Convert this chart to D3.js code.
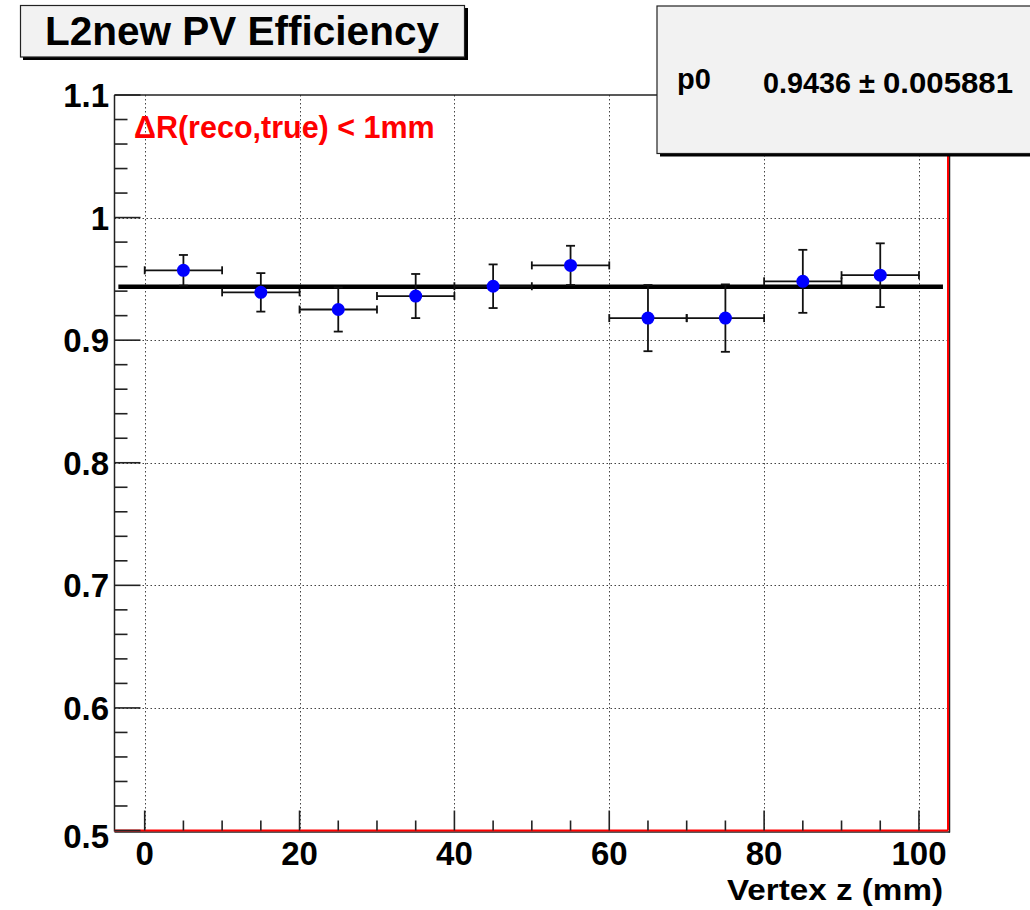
<!DOCTYPE html>
<html>
<head>
<meta charset="utf-8">
<script src="https://cdn.jsdelivr.net/npm/d3@7"></script>
<style>
  html, body { margin: 0; padding: 0; background: #fff; }
  svg { display: block; }
  text { font-family: "Liberation Sans", Arial, Helvetica, sans-serif; font-weight: bold; }
</style>
</head>
<body>
<svg id="chart" width="1030" height="910"></svg>
<script>
// ---- data ----
const binCenters = [5, 15, 25, 35, 45, 55, 65, 75, 85, 95];
const binHalfWidths = [5, 5, 5, 5, 5, 5, 5, 5, 5, 5];
const efficiency = [0.957, 0.939, 0.925, 0.936, 0.944, 0.961, 0.918, 0.918, 0.948, 0.953];
const efficiencyErr = [0.0125, 0.0157, 0.018, 0.018, 0.0178, 0.016, 0.027, 0.0275, 0.0257, 0.026];
const fitP0 = 0.9436;
const fitP0Err = "0.005881";
const xMajorTicks = [0, 20, 40, 60, 80, 100];
const xMinorTicks = [5, 10, 15, 25, 30, 35, 45, 50, 55, 65, 70, 75, 85, 90, 95];
const yMajorTicks = [0.5, 0.6, 0.7, 0.8, 0.9, 1.0, 1.1];
const yTickLabels = ["0.5", "0.6", "0.7", "0.8", "0.9", "1", "1.1"];
const yMinorTicks = [0.52,0.54,0.56,0.58,0.62,0.64,0.66,0.68,0.72,0.74,0.76,0.78,
                     0.82,0.84,0.86,0.88,0.92,0.94,0.96,0.98,1.02,1.04,1.06,1.08];
const titleText = "L2new PV Efficiency";
const xAxisTitle = "Vertex z (mm)";
const cutLabel = "\u0394R(reco,true) < 1mm";

// ---- layout ----
const svg = d3.select("#chart");
const L = 114.5, R = 948, T = 95, B = 830.5;
const x = d3.scaleLinear().domain([-3.9, 103.75]).range([L, R]);
const y = d3.scaleLinear().domain([0.5, 1.1]).range([B, T]);
const axisColor = "#222";

// grid
const grid = svg.append("g").attr("stroke", "#444").attr("stroke-width", 1).attr("stroke-dasharray", "1.5,2.5");
grid.selectAll("line.gx").data(xMajorTicks).join("line")
  .attr("x1", d => Math.round(x(d)) + 0.5).attr("x2", d => Math.round(x(d)) + 0.5)
  .attr("y1", T).attr("y2", B);
grid.selectAll("line.gy").data(yMajorTicks.filter(d => d > 0.5 && d < 1.1)).join("line")
  .attr("x1", L).attr("x2", R)
  .attr("y1", d => Math.round(y(d)) + 0.5).attr("y2", d => Math.round(y(d)) + 0.5);

// frame
svg.append("line").attr("x1", L).attr("x2", R).attr("y1", T).attr("y2", T).attr("stroke", axisColor).attr("stroke-width", 1.5);
svg.append("line").attr("x1", L).attr("x2", L).attr("y1", T).attr("y2", B + 1).attr("stroke", axisColor).attr("stroke-width", 1.5);
svg.append("line").attr("x1", L).attr("x2", R + 2).attr("y1", B + 1.5).attr("y2", B + 1.5).attr("stroke", axisColor).attr("stroke-width", 1.5);
svg.append("line").attr("x1", R + 1.5).attr("x2", R + 1.5).attr("y1", T).attr("y2", B + 2).attr("stroke", axisColor).attr("stroke-width", 1.5);
svg.append("line").attr("x1", L).attr("x2", R).attr("y1", B).attr("y2", B).attr("stroke", "#ff0000").attr("stroke-width", 2);
svg.append("line").attr("x1", R).attr("x2", R).attr("y1", T).attr("y2", B).attr("stroke", "#ff0000").attr("stroke-width", 2);

// ticks
const ticks = svg.append("g").attr("stroke", axisColor).attr("stroke-width", 1.6);
ticks.selectAll("line.xM").data(xMajorTicks).join("line")
  .attr("x1", d => x(d)).attr("x2", d => x(d)).attr("y1", B).attr("y2", B - 20);
ticks.selectAll("line.xm").data(xMinorTicks).join("line")
  .attr("x1", d => x(d)).attr("x2", d => x(d)).attr("y1", B).attr("y2", B - 10);
ticks.selectAll("line.yM").data(yMajorTicks).join("line")
  .attr("x1", L).attr("x2", L + 26).attr("y1", d => y(d)).attr("y2", d => y(d));
ticks.selectAll("line.ym").data(yMinorTicks).join("line")
  .attr("x1", L).attr("x2", L + 13).attr("y1", d => y(d)).attr("y2", d => y(d));

// tick labels
svg.append("g").selectAll("text").data(xMajorTicks).join("text")
  .attr("x", d => x(d)).attr("y", 865).attr("text-anchor", "middle")
  .attr("font-size", 33).attr("fill", "#000").text(d => d);
svg.append("g").selectAll("text").data(yMajorTicks).join("text")
  .attr("x", 109).attr("y", (d, i) => y(d) + (i === 0 ? 17 : 12)).attr("text-anchor", "end")
  .attr("font-size", 33).attr("fill", "#000").text((d, i) => yTickLabels[i]);

// axis title
svg.append("text").attr("x", 727).attr("y", 900)
  .attr("font-size", 29).attr("fill", "#000")
  .attr("textLength", 216).attr("lengthAdjust", "spacingAndGlyphs").text(xAxisTitle);

// fit line
svg.append("line").attr("x1", x(-3.4)).attr("x2", x(103.1))
  .attr("y1", y(fitP0)).attr("y2", y(fitP0)).attr("stroke", "#000").attr("stroke-width", 4.5);

// error bars
const eb = svg.append("g").attr("stroke", "#111").attr("stroke-width", 1.8);
const idx = d3.range(binCenters.length);
eb.selectAll("line.h").data(idx).join("line")
  .attr("x1", i => x(binCenters[i] - binHalfWidths[i])).attr("x2", i => x(binCenters[i] + binHalfWidths[i]))
  .attr("y1", i => y(efficiency[i])).attr("y2", i => y(efficiency[i]));
eb.selectAll("line.v").data(idx).join("line")
  .attr("x1", i => x(binCenters[i])).attr("x2", i => x(binCenters[i]))
  .attr("y1", i => y(efficiency[i] - efficiencyErr[i])).attr("y2", i => y(efficiency[i] + efficiencyErr[i]));
// caps
const capV = 4.5, capH = 4;
eb.selectAll("line.ct").data(idx).join("line")
  .attr("x1", i => x(binCenters[i]) - capV).attr("x2", i => x(binCenters[i]) + capV)
  .attr("y1", i => y(efficiency[i] + efficiencyErr[i])).attr("y2", i => y(efficiency[i] + efficiencyErr[i]));
eb.selectAll("line.cb").data(idx).join("line")
  .attr("x1", i => x(binCenters[i]) - capV).attr("x2", i => x(binCenters[i]) + capV)
  .attr("y1", i => y(efficiency[i] - efficiencyErr[i])).attr("y2", i => y(efficiency[i] - efficiencyErr[i]));
eb.selectAll("line.cl").data(idx).join("line")
  .attr("x1", i => x(binCenters[i] - binHalfWidths[i])).attr("x2", i => x(binCenters[i] - binHalfWidths[i]))
  .attr("y1", i => y(efficiency[i]) - capH).attr("y2", i => y(efficiency[i]) + capH);
eb.selectAll("line.cr").data(idx).join("line")
  .attr("x1", i => x(binCenters[i] + binHalfWidths[i])).attr("x2", i => x(binCenters[i] + binHalfWidths[i]))
  .attr("y1", i => y(efficiency[i]) - capH).attr("y2", i => y(efficiency[i]) + capH);

// markers
svg.append("g").selectAll("circle").data(idx).join("circle")
  .attr("cx", i => x(binCenters[i])).attr("cy", i => y(efficiency[i])).attr("r", 6.5)
  .attr("fill", "#0000ff");

// cut label
svg.append("text").attr("x", 134).attr("y", 138).attr("font-size", 30.5)
  .attr("fill", "#ff0000").text(cutLabel);

// title box
svg.append("rect").attr("x", 23).attr("y", 8).attr("width", 445).attr("height", 52).attr("fill", "#000");
svg.append("rect").attr("x", 20.5).attr("y", 5.5).attr("width", 444).attr("height", 51.5)
  .attr("fill", "#f2f2f2").attr("stroke", "#222").attr("stroke-width", 1.2);
svg.append("text").attr("x", 242).attr("y", 45).attr("text-anchor", "middle")
  .attr("font-size", 40.5).attr("fill", "#000").text(titleText);

// stats box
svg.append("rect").attr("x", 660).attr("y", 9).attr("width", 380).attr("height", 147.5).attr("fill", "#000");
svg.append("rect").attr("x", 657).attr("y", 6).attr("width", 380).attr("height", 147.5)
  .attr("fill", "#f2f2f2").attr("stroke", "#222").attr("stroke-width", 1.2);
svg.append("text").attr("x", 677).attr("y", 89).attr("font-size", 29).attr("fill", "#000").text("p0");
svg.append("text").attr("x", 763).attr("y", 93).attr("font-size", 29).attr("fill", "#000")
  .attr("textLength", 88).attr("lengthAdjust", "spacingAndGlyphs").text(fitP0.toFixed(4));
svg.append("text").attr("x", 867).attr("y", 93).attr("text-anchor", "middle").attr("font-size", 29).attr("font-weight", "normal").attr("fill", "#000").text("\u00b1");
svg.append("text").attr("x", 883).attr("y", 93).attr("font-size", 29).attr("fill", "#000")
  .attr("textLength", 130).attr("lengthAdjust", "spacingAndGlyphs").text(fitP0Err);
</script>
</body>
</html>
